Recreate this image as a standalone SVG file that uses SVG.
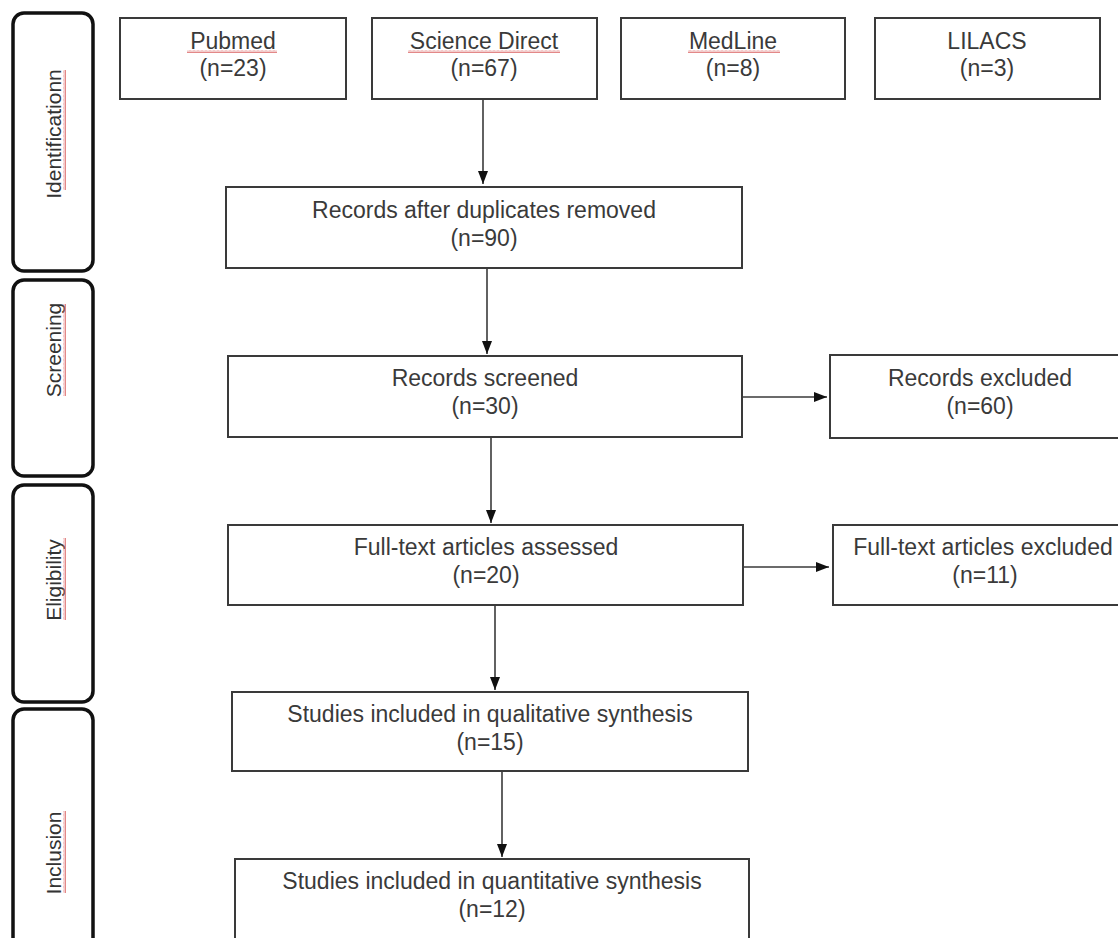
<svg xmlns="http://www.w3.org/2000/svg" width="1118" height="938" viewBox="0 0 1118 938">
  <style>
    .box { fill: #ffffff; stroke: #3a3a3a; stroke-width: 2; }
    .phase { fill: #ffffff; stroke: #111111; stroke-width: 3.5; }
    .t { font-family: "Liberation Sans", Arial, sans-serif; font-size: 23px; fill: #3a3a3a; text-anchor: middle; }
    .pt { font-family: "Liberation Sans", Arial, sans-serif; font-size: 21px; fill: #333333; text-anchor: middle; }
    .conn { stroke: #3a3a3a; stroke-width: 1.6; fill: none; marker-end: url(#arrow); }
  </style>
  <defs>
    <marker id="arrow" viewBox="0 0 13 10" refX="13" refY="5" markerWidth="13" markerHeight="10" markerUnits="userSpaceOnUse" orient="auto">
      <path d="M0,0 L13,5 L0,10 Z" fill="#111111"/>
    </marker>
    <pattern id="sq" width="4" height="3" patternUnits="userSpaceOnUse">
      <path d="M0,2.5 L1,0.5 L2,2.5 L3,0.5 L4,2.5" fill="none" stroke="#e07a7a" stroke-width="0.9"/>
    </pattern>
  </defs>
  <rect width="1118" height="938" fill="#ffffff"/>

  <g id="phase-identification">
    <rect class="phase" x="13" y="13" width="80" height="258" rx="11"/>
    <g transform="translate(61,134) rotate(-90)">
      <text class="pt" x="0" y="0">Identificationn</text>
      <rect x="-56" y="2" width="120" height="3" fill="url(#sq)"/>
    </g>
  </g>
  <g id="phase-screening">
    <rect class="phase" x="13" y="280" width="80" height="196" rx="11"/>
    <g transform="translate(61,350) rotate(-90)">
      <text class="pt" x="0" y="0">Screening</text>
      <rect x="-46" y="2" width="92" height="3" fill="url(#sq)"/>
    </g>
  </g>
  <g id="phase-eligibility">
    <rect class="phase" x="13" y="485" width="80" height="217" rx="11"/>
    <g transform="translate(61,580) rotate(-90)">
      <text class="pt" x="0" y="0">Eligibility</text>
      <rect x="-40" y="2" width="82" height="3" fill="url(#sq)"/>
    </g>
  </g>
  <g id="phase-inclusion">
    <rect class="phase" x="13" y="709" width="80" height="250" rx="11"/>
    <g transform="translate(61,853) rotate(-90)">
      <text class="pt" x="0" y="0">Inclusion</text>
      <rect x="-40" y="2" width="82" height="3" fill="url(#sq)"/>
    </g>
  </g>

  <g id="pubmed">
    <rect class="box" x="120" y="18" width="226" height="81"/>
    <text class="t" x="233" y="49">Pubmed</text>
    <rect x="187" y="50" width="90" height="3" fill="url(#sq)"/>
    <text class="t" x="233" y="76">(n=23)</text>
  </g>
  <g id="science-direct">
    <rect class="box" x="372" y="18" width="225" height="81"/>
    <text class="t" x="484" y="49">Science Direct</text>
    <rect x="408" y="50" width="152" height="3" fill="url(#sq)"/>
    <text class="t" x="484" y="76">(n=67)</text>
  </g>
  <g id="medline">
    <rect class="box" x="621" y="18" width="224" height="81"/>
    <text class="t" x="733" y="49">MedLine</text>
    <rect x="688" y="50" width="92" height="3" fill="url(#sq)"/>
    <text class="t" x="733" y="76">(n=8)</text>
  </g>
  <g id="lilacs">
    <rect class="box" x="875" y="18" width="225" height="81"/>
    <text class="t" x="987" y="49">LILACS</text>
    <text class="t" x="987" y="76">(n=3)</text>
  </g>

  <g id="records-after-duplicates">
    <rect class="box" x="226" y="187" width="516" height="81"/>
    <text class="t" x="484" y="218">Records after duplicates removed</text>
    <text class="t" x="484" y="246">(n=90)</text>
  </g>
  <g id="records-screened">
    <rect class="box" x="228" y="356" width="514" height="81"/>
    <text class="t" x="485" y="386">Records screened</text>
    <text class="t" x="485" y="414">(n=30)</text>
  </g>
  <g id="records-excluded">
    <rect class="box" x="830" y="355" width="300" height="83"/>
    <text class="t" x="980" y="386">Records excluded</text>
    <text class="t" x="980" y="414">(n=60)</text>
  </g>
  <g id="fulltext-assessed">
    <rect class="box" x="228" y="525" width="515" height="80"/>
    <text class="t" x="486" y="555">Full-text articles assessed</text>
    <text class="t" x="486" y="583">(n=20)</text>
  </g>
  <g id="fulltext-excluded">
    <rect class="box" x="833" y="525" width="300" height="80"/>
    <text class="t" x="983" y="555">Full-text articles excluded</text>
    <text class="t" x="985" y="583">(n=11)</text>
  </g>
  <g id="qualitative">
    <rect class="box" x="232" y="692" width="516" height="79"/>
    <text class="t" x="490" y="722">Studies included in qualitative synthesis</text>
    <text class="t" x="490" y="750">(n=15)</text>
  </g>
  <g id="quantitative">
    <rect class="box" x="235" y="859" width="514" height="100"/>
    <text class="t" x="492" y="889">Studies included in quantitative synthesis</text>
    <text class="t" x="492" y="917">(n=12)</text>
  </g>

  <g id="connectors">
    <line class="conn" x1="483" y1="99" x2="483" y2="184"/>
    <line class="conn" x1="487" y1="268" x2="487" y2="354"/>
    <line class="conn" x1="491" y1="437" x2="491" y2="523"/>
    <line class="conn" x1="495" y1="605" x2="495" y2="690"/>
    <line class="conn" x1="502" y1="771" x2="502" y2="857"/>
    <line class="conn" x1="742" y1="397" x2="827" y2="397"/>
    <line class="conn" x1="743" y1="567" x2="829" y2="567"/>
  </g>
</svg>
